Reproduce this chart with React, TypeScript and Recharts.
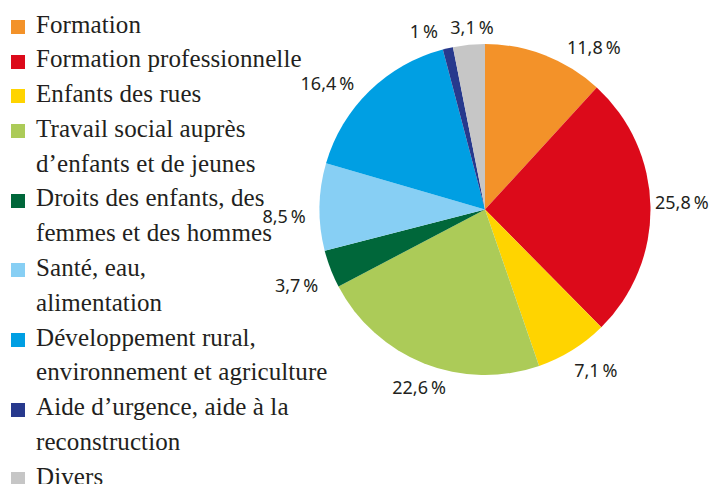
import React from 'react';
import { PieChart, Pie, Cell, Legend } from 'recharts';

const categories: string[] = [
  'Formation',
  'Formation professionnelle',
  'Enfants des rues',
  'Travail social auprès\nd’enfants et de jeunes',
  'Droits des enfants, des\nfemmes et des hommes',
  'Santé, eau,\nalimentation',
  'Développement rural,\nenvironnement et agriculture',
  'Aide d’urgence, aide à la\nreconstruction',
  'Divers',
];

const shares: number[] = [11.8, 25.8, 7.1, 22.6, 3.7, 8.5, 16.4, 1, 3.1];

const colors: string[] = [
  '#F39229',
  '#DC0A1A',
  '#FFD400',
  '#ACCB58',
  '#00673A',
  '#87CFF4',
  '#009FE3',
  '#27398D',
  '#C6C6C6',
];

// label placement tweaks: [angle shift in degrees (clockwise), distance from centre]
const labelPlacement: [number, number][] = [
  [12.5, 196],
  [-1.1, 197],
  [-2.8, 195],
  [-1.2, 189],
  [-0.8, 203],
  [-2.8, 201],
  [-7, 202],
  [-5.9, 189],
  [1.5, 183],
];

const data = categories.map((name, i) => ({ name, value: shares[i] }));

const RAD = Math.PI / 180;
const SERIF = '"Liberation Serif", "Times New Roman", Times, "DejaVu Serif", serif';

const formatPct = (v: number) => `${String(v).replace('.', ',')}\u2009%`;

const renderLabel = (props: any) => {
  const { cx, cy, midAngle, index, value } = props;
  const [dA, R] = labelPlacement[index];
  const m = (midAngle - dA) * RAD;
  const x = cx + R * Math.cos(m);
  const y = cy - R * Math.sin(m);
  return (
    <text
      x={x}
      y={y}
      textAnchor="middle"
      dominantBaseline="central"
      fill="#231F20"
      fontFamily="'Noto Sans', sans-serif"
      fontSize={18}
    >
      {formatPct(value)}
    </text>
  );
};

const renderLegend = (props: any) => {
  const payload: any[] = props.payload || [];
  const colorOf = (name: string, i: number) => {
    const p = payload.find((e) => e.value === name);
    return p ? p.color : colors[i];
  };
  return (
    <div style={{ fontFamily: SERIF, fontSize: 25, color: '#231F20', letterSpacing: '0.1px' }}>
      {categories.map((name, i) => (
        <div key={i} style={{ display: 'flex', alignItems: 'flex-start' }}>
          <div
            style={{
              width: 14,
              height: 14,
              background: colorOf(name, i),
              marginLeft: 11,
              marginTop: 12.3,
              flexShrink: 0,
            }}
          />
          <div style={{ marginLeft: 11, whiteSpace: 'pre-line', lineHeight: '34.8px', fontFamily: SERIF }}>
            {name}
          </div>
        </div>
      ))}
    </div>
  );
};

export default function App() {
  return (
    <div style={{ position: 'absolute', left: 0, top: 0, width: 721, height: 484, background: '#fff', overflow: 'hidden' }}>
      <PieChart width={721} height={484} margin={{ top: 0, right: 0, bottom: 0, left: 0 }}>
        <Pie
          data={data}
          dataKey="value"
          nameKey="name"
          cx={485}
          cy={209.5}
          outerRadius={165.5}
          startAngle={90}
          endAngle={-270}
          stroke="none"
          label={renderLabel}
          labelLine={false}
          isAnimationActive={false}
        >
          {data.map((_, i) => (
            <Cell key={i} fill={colors[i]} />
          ))}
        </Pie>
        <Legend
          layout="vertical"
          align="center"
          verticalAlign="middle"
          content={renderLegend}
          wrapperStyle={{ left: 0, top: 7.5, width: 350 }}
        />
      </PieChart>
    </div>
  );
}
